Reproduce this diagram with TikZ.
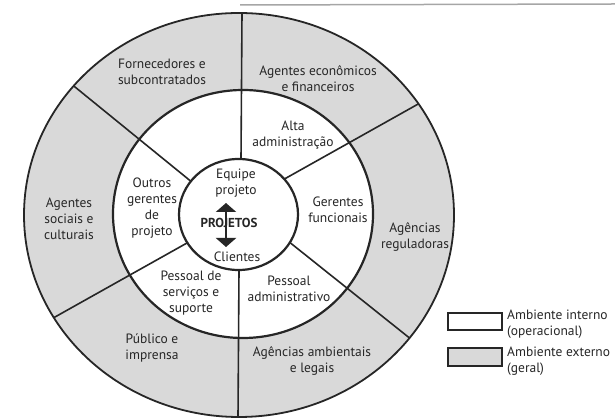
\documentclass[tikz,border=0pt]{standalone}
\usepackage{fontspec}
\setmainfont{PT Sans}
\usetikzlibrary{arrows.meta,calc}
\definecolor{ringgray}{gray}{0.85}
\definecolor{ink}{gray}{0.15}
\begin{document}
\begin{tikzpicture}[x=1pt,y=1pt,
  txt/.style={align=center,text=ink,inner sep=0pt,font=\fontsize{13.5}{16}\selectfont},
  legbox/.style={draw=ink,line width=2.6pt}]
  \useasboundingbox (0,0) rectangle (615,419);
  \draw[gray!70,line width=1.5pt] (240,414) -- (615,415);

  \fill[ringgray] (239,204) ellipse [x radius=215,y radius=202];
  \fill[white] (243,205) ellipse [x radius=130,y radius=124];

  % spokes
  \begin{scope}
    \clip (239,204) ellipse [x radius=215,y radius=202];
    \foreach \ox/\oy/\ix/\iy in {242/406/241/260, 420/316/288/242, 412/79/293/174,
                                 238/2/239/149, 55/102/187/176, 75/332/193/236}
      \draw[ink,line width=1.6pt] ($(\ix,\iy)!-0.2!(\ox,\oy)$) -- ($(\ix,\iy)!1.2!(\ox,\oy)$);
  \end{scope}
  \fill[white] (238.5,204.5) ellipse [x radius=59.5,y radius=55.5];

  \draw[ink,line width=1.8pt] (239,204) ellipse [x radius=215,y radius=202];
  \draw[ink,line width=2.2pt] (243,205) ellipse [x radius=130,y radius=124];
  \draw[ink,line width=2.2pt] (238.5,204.5) ellipse [x radius=59.5,y radius=55.5];

  % outer ring
  \draw (162,347)node(forn)[txt]{Fornecedores e\\subcontratados};
  \draw (318,340)node(econ)[txt]{Agentes econômicos\\e financeiros};
  \draw (415,182.5)node(regul)[txt]{Agências\\reguladoras};
  \draw (312,58)node(ambi)[txt]{Agências ambientais\\e legais};
  \draw (152,71)node(publ)[txt]{Público e\\imprensa};
  \draw (69,200.5)node(soci)[txt]{Agentes\\sociais e\\culturais};

  % middle ring
  \draw (293,284)node(alta)[txt]{Alta\\administração};
  \draw (338,209.5)node(func)[txt]{Gerentes\\funcionais};
  \draw (289,130)node(admi)[txt]{Pessoal\\administrativo};
  \draw (191,125.5)node(serv)[txt]{Pessoal de\\serviços e\\suporte};
  \draw (152,211)node(outr)[txt]{Outros\\gerentes\\de\\projeto};

  % center
  \draw (236,236)node(equi)[txt]{Equipe\\projeto};
  \draw (237,162)node(clie)[txt]{Clientes};
  \draw (229,196)node(proj)[txt,font=\fontsize{13}{16}\selectfont\bfseries]{PROJETOS};
  \draw[ink,line width=2.5pt,{Triangle[width=20pt,length=9pt]}-{Triangle[width=20pt,length=9pt]}]
    (226,172) -- (226,216);

  % legend
  \draw[legbox,fill=white] (448,89) rectangle (502,106);
  \draw[legbox,fill=ringgray] (448,53) rectangle (502,71);
  \draw (507,95)node(intr)[txt,anchor=west,align=left]{Ambiente interno\\(operacional)};
  \draw (507,58)node(extr)[txt,anchor=west,align=left]{Ambiente externo\\(geral)};
\end{tikzpicture}
\end{document}
